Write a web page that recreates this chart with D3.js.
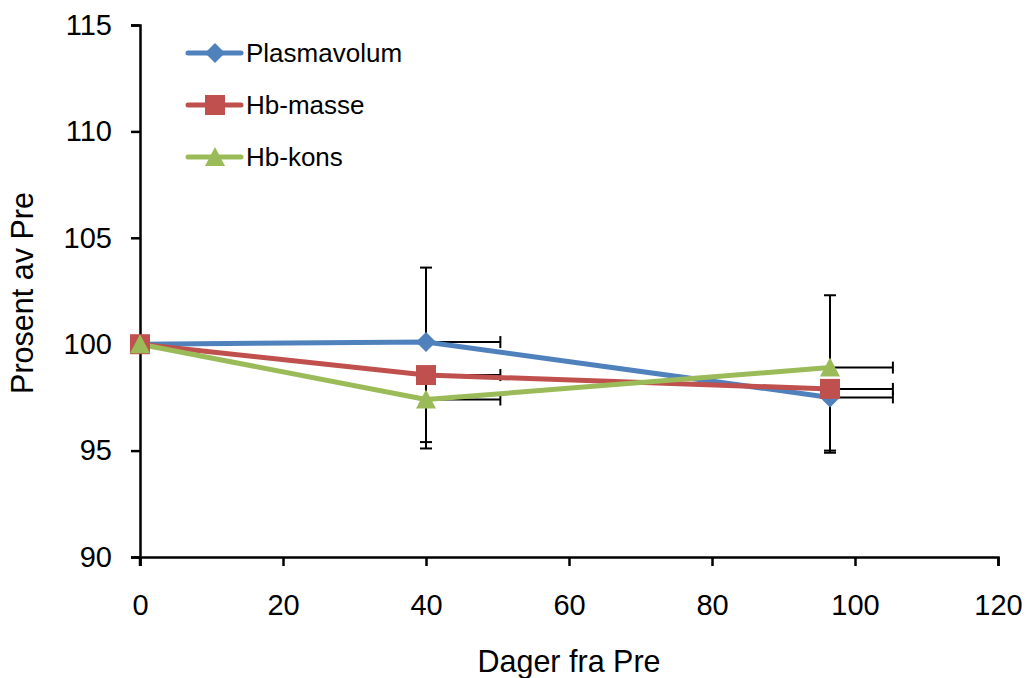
<!DOCTYPE html>
<html>
<head>
<meta charset="utf-8">
<script src="https://cdn.jsdelivr.net/npm/d3@7"></script>
<style>
  body { margin: 0; background: #fff; }
  svg { font-family: "Liberation Sans", Arial, sans-serif; }
</style>
</head>
<body>
<div id="chart"></div>
<script>
// Data
const days = [0, 40, 96.5];
const seriesNames = ["Plasmavolum", "Hb-masse", "Hb-kons"];
const plasmavolum = [100, 100.1, 97.5];
const hbMasse = [100, 98.55, 97.9];
const hbKons = [100, 97.4, 98.9];
// error bars (Excel style, one-sided)
const plasmaPlus = [0, 3.5, 0];
const plasmaMinus = [0, 0, 2.5];
const masseMinus = [0, 3.15, 3.0];
const konsPlus = [0, 0, 3.4];
const konsMinus = [0, 2.3, 0];
const dayPlus = [0, 10.4, 8.8];
const xTicks = [0, 20, 40, 60, 80, 100, 120];
const yTicks = [90, 95, 100, 105, 110, 115];

const width = 1030, height = 678;
const margin = {top: 25, right: 32, bottom: 121, left: 140};

const svg = d3.select("#chart").append("svg")
    .attr("width", width)
    .attr("height", height);

const x = d3.scaleLinear().domain([0, 120]).range([margin.left, width - margin.right]);
const y = d3.scaleLinear().domain([90, 115]).range([height - margin.bottom, margin.top]);

// marker shapes like Excel's
const diamond = r => `M0,${-r}L${r},0L0,${r}L${-r},0Z`;
const square = r => `M${-r},${-r}H${r}V${r}H${-r}Z`;
const triangle = r => `M0,${-r}L${r},${r * 0.9}H${-r}Z`;

const series = [
    {name: seriesNames[0], values: plasmavolum, plus: plasmaPlus, minus: plasmaMinus, color: "#4F81BD", shape: diamond, r: 10},
    {name: seriesNames[1], values: hbMasse, plus: [0, 0, 0], minus: masseMinus, color: "#C0504D", shape: square, r: 10},
    {name: seriesNames[2], values: hbKons, plus: konsPlus, minus: konsMinus, color: "#9BBB59", shape: triangle, r: 10}
];

// Axes
const xAxis = svg.append("g")
    .attr("transform", `translate(0,${y(90)})`)
    .call(d3.axisBottom(x).tickValues(xTicks).tickSize(9).tickPadding(28));
const yAxis = svg.append("g")
    .attr("transform", `translate(${x(0)},0)`)
    .call(d3.axisLeft(y).tickValues(yTicks).tickSize(9).tickPadding(19));

[xAxis, yAxis].forEach(g => {
    g.select(".domain").attr("stroke", "#000").attr("stroke-width", 2.5);
    g.selectAll(".tick line").attr("stroke", "#000").attr("stroke-width", 2.5);
    g.selectAll(".tick text").attr("fill", "#000").style("font-size", "29px")
        .style("font-family", "'Liberation Sans', Arial, sans-serif");
});
// y axis reaches down through the x tick row
svg.append("line")
    .attr("x1", x(0)).attr("x2", x(0))
    .attr("y1", y(90)).attr("y2", y(90) + 9)
    .attr("stroke", "#000").attr("stroke-width", 2.5);

// Axis titles
svg.append("text")
    .attr("x", 569)
    .attr("y", 672)
    .attr("text-anchor", "middle")
    .style("font-size", "30.5px")
    .text("Dager fra Pre");
svg.append("text")
    .attr("transform", `translate(33,293) rotate(-90)`)
    .attr("text-anchor", "middle")
    .style("font-size", "30.5px")
    .text("Prosent av Pre");

// Error bars
const capHalf = 6;
const eb = svg.append("g").attr("stroke", "#000").attr("stroke-width", 2);
series.forEach(s => {
    days.forEach((d, i) => {
        const cx = x(d), cy = y(s.values[i]);
        if (s.plus[i] > 0) {
            const ty = y(s.values[i] + s.plus[i]);
            eb.append("line").attr("x1", cx).attr("x2", cx).attr("y1", cy).attr("y2", ty);
            eb.append("line").attr("x1", cx - capHalf).attr("x2", cx + capHalf).attr("y1", ty).attr("y2", ty);
        }
        if (s.minus[i] > 0) {
            const by = y(s.values[i] - s.minus[i]);
            eb.append("line").attr("x1", cx).attr("x2", cx).attr("y1", cy).attr("y2", by);
            eb.append("line").attr("x1", cx - capHalf).attr("x2", cx + capHalf).attr("y1", by).attr("y2", by);
        }
        if (dayPlus[i] > 0) {
            const rx = x(d + dayPlus[i]);
            eb.append("line").attr("x1", cx).attr("x2", rx).attr("y1", cy).attr("y2", cy);
            eb.append("line").attr("x1", rx).attr("x2", rx).attr("y1", cy - capHalf).attr("y2", cy + capHalf);
        }
    });
});

// Lines
const line = d3.line().x((d, i) => x(days[i])).y(d => y(d));
series.forEach(s => {
    svg.append("path")
        .datum(s.values)
        .attr("d", line)
        .attr("fill", "none")
        .attr("stroke", s.color)
        .attr("stroke-width", 5)
        .attr("stroke-linejoin", "round");
});

// Markers
series.forEach(s => {
    svg.append("g").selectAll("path")
        .data(s.values)
        .join("path")
        .attr("transform", (d, i) => `translate(${x(days[i])},${y(d)})`)
        .attr("d", s.shape(s.r))
        .attr("fill", s.color);
});

// Legend
const legendY = [53, 105, 157];
const legend = svg.append("g");
series.forEach((s, i) => {
    const g = legend.append("g").attr("transform", `translate(188,${legendY[i]})`);
    g.append("line")
        .attr("x1", 0).attr("x2", 53)
        .attr("stroke", s.color).attr("stroke-width", 5).attr("stroke-linecap", "round");
    g.append("path")
        .attr("transform", "translate(27,0)")
        .attr("d", s.shape(s.r))
        .attr("fill", s.color);
    g.append("text")
        .attr("x", 58).attr("y", 9)
        .style("font-size", "26px")
        .text(s.name);
});
</script>
</body>
</html>
